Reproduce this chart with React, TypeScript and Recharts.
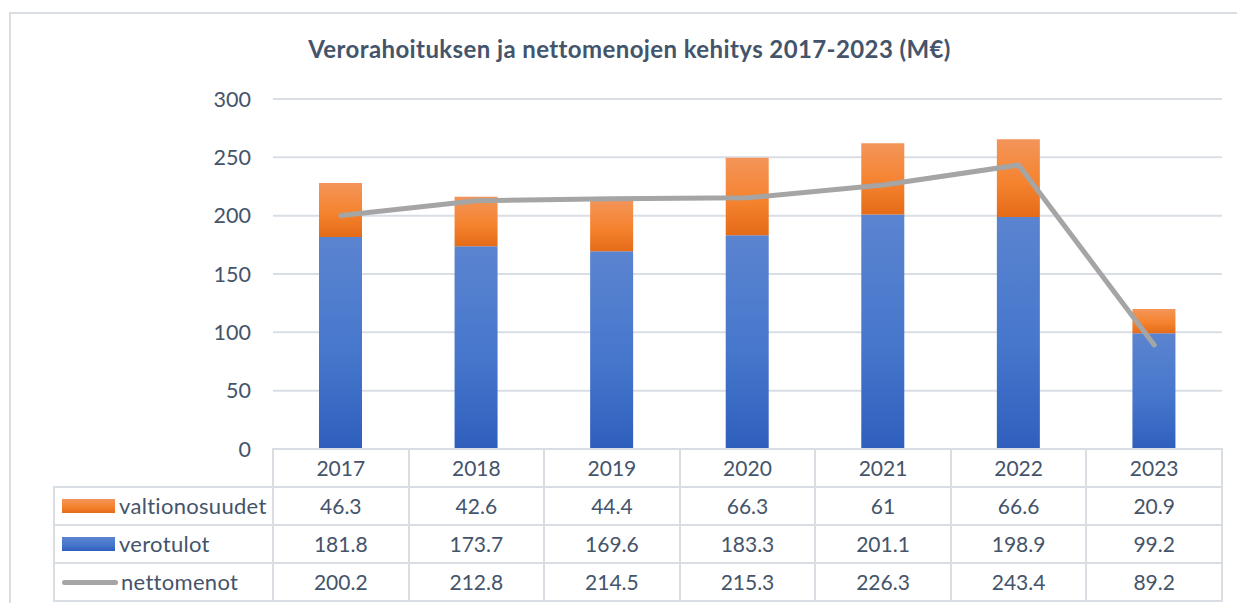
import { ComposedChart, Bar, Line, YAxis, XAxis, CartesianGrid } from "recharts";

const years = ["2017", "2018", "2019", "2020", "2021", "2022", "2023"];
const valtionosuudet = [46.3, 42.6, 44.4, 66.3, 61, 66.6, 20.9];
const verotulot = [181.8, 173.7, 169.6, 183.3, 201.1, 198.9, 99.2];
const nettomenot = [200.2, 212.8, 214.5, 215.3, 226.3, 243.4, 89.2];
const yTicks = [0, 50, 100, 150, 200, 250, 300];

const TEXT = "#44546a";
const GRID = "#d9dde4";
const FONT = "Lato, 'Open Sans', sans-serif";

const data = years.map((year, i) => ({
  year,
  valtionosuudet: valtionosuudet[i],
  verotulot: verotulot[i],
  nettomenot: nettomenot[i],
}));

const rows = [
  { name: "valtionosuudet", values: valtionosuudet, key: "orange" },
  { name: "verotulot", values: verotulot, key: "blue" },
  { name: "nettomenot", values: nettomenot, key: "line" },
];

const COL0 = 219;
const COLW = (1222 - 273) / years.length;

function LegendKey({ kind }: { kind: string }) {
  if (kind === "line") {
    return <div style={{ width: 56, height: 5, borderRadius: 3, background: "#a5a5a5", marginRight: 3 }} />;
  }
  const bg =
    kind === "orange"
      ? "linear-gradient(#f3955a, #f5832f 55%, #e56b17)"
      : "linear-gradient(#5b84d0, #4677cc 55%, #2f5fbd)";
  return <div style={{ width: 53, height: 14, background: bg, marginRight: 4 }} />;
}

export default function App() {
  const cell = {
    borderLeft: `2px solid ${GRID}`,
    borderBottom: `2px solid ${GRID}`,
    textAlign: "center" as const,
    boxSizing: "border-box" as const,
    width: COLW,
    lineHeight: "36px",
  };
  return (
    <div style={{ position: "absolute", left: 0, top: 0, width: 1237, height: 603, background: "#fff", fontFamily: FONT, color: TEXT, overflow: "hidden" }}>
      <div style={{ position: "absolute", left: 9, top: 12, width: 1260, height: 620, border: `2px solid ${GRID}`, boxSizing: "border-box" }} />
      <div style={{ position: "absolute", left: 0, top: 34, width: 1259, textAlign: "center", fontWeight: 700, fontSize: 24, letterSpacing: 0.4 }}>
        Verorahoituksen ja nettomenojen kehitys 2017-2023 (M€)
      </div>
      <div style={{ position: "absolute", left: 0, top: 0 }}>
        <ComposedChart width={1237} height={470} data={data} margin={{ top: 99, right: 15, bottom: 21, left: 213 }}>
          <defs>
            <linearGradient id="gBlue" x1="0" y1="0" x2="0" y2="1">
              <stop offset="0%" stopColor="#5b84d0" />
              <stop offset="55%" stopColor="#4677cc" />
              <stop offset="100%" stopColor="#2f5fbd" />
            </linearGradient>
            <linearGradient id="gOrange" x1="0" y1="0" x2="0" y2="1">
              <stop offset="0%" stopColor="#f3955a" />
              <stop offset="55%" stopColor="#f5832f" />
              <stop offset="100%" stopColor="#e56b17" />
            </linearGradient>
          </defs>
          <CartesianGrid vertical={false} stroke={GRID} strokeWidth={2} />
          <XAxis dataKey="year" hide />
          <YAxis
            width={60}
            domain={[0, 300]}
            ticks={yTicks}
            axisLine={false}
            tickLine={false}
            tickSize={0}
            tickMargin={22}
            tick={{ fill: TEXT, fontSize: 21.5, fontFamily: FONT }}
          />
          <Bar dataKey="verotulot" stackId="a" fill="url(#gBlue)" barSize={43} isAnimationActive={false} />
          <Bar dataKey="valtionosuudet" stackId="a" fill="url(#gOrange)" barSize={43} isAnimationActive={false} />
          <Line
            type="linear"
            dataKey="nettomenot"
            stroke="#a5a5a5"
            strokeWidth={5}
            strokeLinecap="round"
            strokeLinejoin="round"
            dot={false}
            activeDot={false}
            isAnimationActive={false}
          />
        </ComposedChart>
      </div>
      <table
        style={{
          position: "absolute",
          left: 53,
          top: 448,
          borderCollapse: "collapse",
          tableLayout: "fixed",
          fontSize: 21,
          fontFamily: FONT,
          color: TEXT,
        }}
      >
        <tbody>
          <tr style={{ height: 37 }}>
            <td style={{ width: COL0, borderBottom: `2px solid ${GRID}`, boxSizing: "border-box", padding: 0 }} />
            {years.map((y) => (
              <td key={y} style={{ ...cell, borderTop: `2px solid ${GRID}`, borderRight: `2px solid ${GRID}`, padding: 0 }}>
                {y}
              </td>
            ))}
          </tr>
          {rows.map((r) => (
            <tr key={r.name} style={{ height: 38 }}>
              <td style={{ ...cell, width: COL0, textAlign: "left", padding: 0 }}>
                <div style={{ display: "flex", alignItems: "center", paddingLeft: 7 }}>
                  <LegendKey kind={r.key} />
                  <span style={{ fontSize: 22, letterSpacing: 0.3 }}>{r.name}</span>
                </div>
              </td>
              {r.values.map((v, i) => (
                <td key={i} style={{ ...cell, borderRight: `2px solid ${GRID}`, padding: 0 }}>
                  {String(v)}
                </td>
              ))}
            </tr>
          ))}
        </tbody>
      </table>
    </div>
  );
}
